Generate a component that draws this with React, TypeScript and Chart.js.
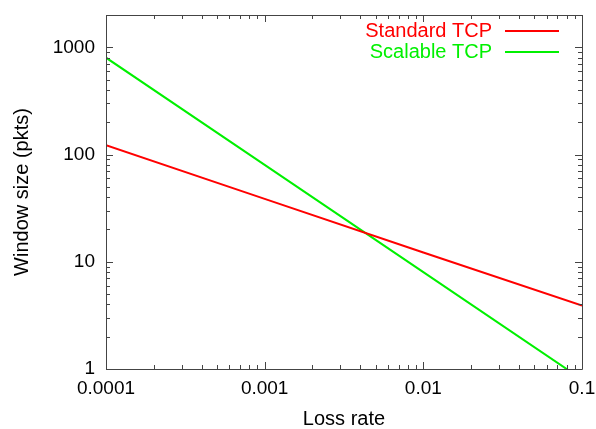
import React, { useEffect, useLayoutEffect, useRef } from "react";
import { Chart, registerables } from "chart.js";

Chart.register(...registerables);

// Data
const lossRates = [0.0001, 0.001, 0.01, 0.1];
const standardTcp = [122, 38.6, 12.2, 3.9];
const scalableTcp = [800, 80, 8, 0.8];

const seriesNames = ["Standard TCP", "Scalable TCP"];
const seriesColors = ["#ff0000", "#00f000"];

const xMajorTicks = [0.0001, 0.001, 0.01, 0.1];
const xTickLabels = ["0.0001", "0.001", "0.01", "0.1"];
const yMajorTicks = [1, 10, 100, 1000];
const yTickLabels = ["1", "10", "100", "1000"];
const minorMultiples = [2, 3, 4, 5, 6, 7, 8, 9];

const X_MIN = 0.0001;
const X_MAX = 0.1;
const Y_MIN = 1;
const Y_MAX = 2000;

const FONT = "'Liberation Sans', Arial, Helvetica, sans-serif";
const TICK_SIZE = 19;
const TEXT_SIZE = 20;

function buildTicks(majors: number[], min: number, max: number) {
  const out: { value: number }[] = [];
  majors.forEach((m) => {
    if (m >= min && m <= max) out.push({ value: m });
    minorMultiples.forEach((k) => {
      const v = m * k;
      if (v > min && v <= max * 1.0000001) out.push({ value: v });
    });
  });
  out.sort((a, b) => a.value - b.value);
  return out;
}

function isMajor(v: number, majors: number[]) {
  return majors.some((m) => Math.abs(v - m) / m < 1e-6);
}

const framePlugin = {
  id: "gnuplotFrame",
  afterDatasetsDraw(chart: any) {
    const { ctx, chartArea } = chart;
    const { left, right, top, bottom } = chartArea;
    const xs = chart.scales.x;
    const ys = chart.scales.y;
    ctx.save();
    ctx.strokeStyle = "#444";
    ctx.lineWidth = 1;
    ctx.beginPath();
    ctx.rect(Math.round(left) + 0.5, Math.round(top) + 0.5, Math.round(right - left), Math.round(bottom - top));
    ctx.stroke();
    ctx.beginPath();
    xs.ticks.forEach((t: any) => {
      const px = Math.round(xs.getPixelForValue(t.value)) + 0.5;
      const len = isMajor(t.value, xMajorTicks) ? 7 : 4;
      ctx.moveTo(px, bottom);
      ctx.lineTo(px, bottom - len);
      ctx.moveTo(px, top);
      ctx.lineTo(px, top + len);
    });
    ys.ticks.forEach((t: any) => {
      const py = Math.round(ys.getPixelForValue(t.value)) + 0.5;
      const len = isMajor(t.value, yMajorTicks) ? 7 : 4;
      ctx.moveTo(left, py);
      ctx.lineTo(left + len, py);
      ctx.moveTo(right, py);
      ctx.lineTo(right - len, py);
    });
    ctx.stroke();

    // legend (gnuplot style: text right-aligned, line sample to its right)
    ctx.font = `${TEXT_SIZE}px ${FONT}`;
    ctx.textAlign = "right";
    ctx.textBaseline = "middle";
    chart.data.datasets.forEach((ds: any, i: number) => {
      const y = top + 16 + i * 21;
      ctx.fillStyle = ds.borderColor;
      ctx.fillText(ds.label, right - 90, y);
      ctx.strokeStyle = ds.borderColor;
      ctx.lineWidth = 2;
      ctx.beginPath();
      ctx.moveTo(right - 77, y);
      ctx.lineTo(right - 23, y);
      ctx.stroke();
    });
    ctx.restore();
  },
};

export default function App() {
  const ref = useRef<HTMLCanvasElement | null>(null);
  useLayoutEffect(() => {
    document.body.style.margin = "0";
  }, []);
  useEffect(() => {
    if (!ref.current) return;
    const series = [standardTcp, scalableTcp];
    const chart = new Chart(ref.current, {
      type: "line",
      data: {
        datasets: series.map((vals, i) => ({
          label: seriesNames[i],
          data: lossRates.map((x, j) => ({ x, y: vals[j] })),
          borderColor: seriesColors[i],
          backgroundColor: seriesColors[i],
          borderWidth: 2,
          pointRadius: 0,
          tension: 0,
          fill: false,
        })),
      },
      options: {
        animation: false,
        responsive: false,
        maintainAspectRatio: false,
        layout: { padding: { top: 15, right: 14, left: 0, bottom: 0 } },
        plugins: {
          legend: { display: false },
          tooltip: { enabled: false },
        },
        scales: {
          x: {
            type: "logarithmic",
            min: X_MIN,
            max: X_MAX,
            grid: { display: false, drawTicks: false },
            border: { display: false },
            afterBuildTicks: (scale: any) => {
              scale.ticks = buildTicks(xMajorTicks, X_MIN, X_MAX);
            },
            afterFit: (scale: any) => {
              scale.height = 60;
              scale.paddingLeft = 0;
              scale.paddingRight = 0;
            },
            ticks: {
              autoSkip: false,
              maxRotation: 0,
              minRotation: 0,
              padding: 8,
              color: "#000",
              font: { family: FONT, size: TICK_SIZE },
              callback: (v: any) => {
                const idx = xMajorTicks.findIndex((m) => Math.abs(Number(v) - m) / m < 1e-6);
                return idx >= 0 ? xTickLabels[idx] : "";
              },
            },
            title: {
              display: true,
              text: "Loss rate",
              color: "#000",
              font: { family: FONT, size: TEXT_SIZE, lineHeight: 1 },
              padding: { top: 0, bottom: 0 },
            },
          },
          y: {
            type: "logarithmic",
            min: Y_MIN,
            max: Y_MAX,
            grid: { display: false, drawTicks: false },
            border: { display: false },
            afterBuildTicks: (scale: any) => {
              scale.ticks = buildTicks(yMajorTicks, Y_MIN, Y_MAX);
            },
            afterFit: (scale: any) => {
              scale.width = 106;
              scale.paddingTop = 0;
              scale.paddingBottom = 0;
            },
            ticks: {
              autoSkip: false,
              padding: 11,
              color: "#000",
              font: { family: FONT, size: TICK_SIZE },
              callback: (v: any) => {
                const idx = yMajorTicks.findIndex((m) => Math.abs(Number(v) - m) / m < 1e-6);
                return idx >= 0 ? yTickLabels[idx] : "";
              },
            },
            title: {
              display: true,
              text: "Window size (pkts)",
              color: "#000",
              font: { family: FONT, size: TEXT_SIZE, lineHeight: 1 },
              padding: { top: 12, bottom: 0 },
            },
          },
        },
      },
      plugins: [framePlugin],
    });
    return () => chart.destroy();
  }, []);
  return (
    <div style={{ width: 596, height: 429 }}>
      <canvas ref={ref} width={596} height={429} style={{ display: "block" }} />
    </div>
  );
}
